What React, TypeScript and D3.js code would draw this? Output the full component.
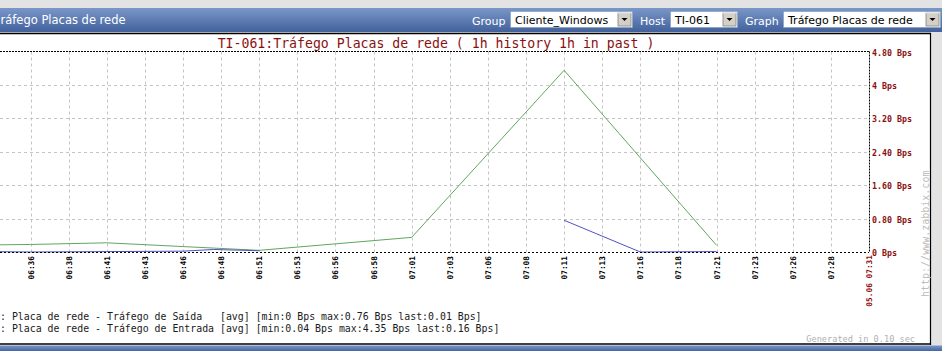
import React from "react";
import * as d3 from "d3";

// ---- data ----
const chartTitle = "TI-061:Tráfego Placas de rede ( 1h history 1h in past )";
const periodStart = "06:31";
const periodEnd = "07:31";
const xTickLabels = [
  "06:36", "06:38", "06:41", "06:43", "06:46", "06:48", "06:51", "06:53",
  "06:56", "06:58", "07:01", "07:03", "07:06", "07:08", "07:11", "07:13",
  "07:16", "07:18", "07:21", "07:23", "07:26", "07:28",
];
const endLabel = "05.06 07:31";
const yTickValues = [0, 0.8, 1.6, 2.4, 3.2, 4.0, 4.8];
const yTickLabels = ["0 Bps", "0.80 Bps", "1.60 Bps", "2.40 Bps", "3.20 Bps", "4 Bps", "4.80 Bps"];

const entradaTimes = ["06:31", "06:36", "06:41", "06:46", "06:51", "07:01", "07:11", "07:21"];
const entradaValues = [0.16, 0.18, 0.22, 0.13, 0.04, 0.35, 4.35, 0.16];

const saidaTimes = ["06:31", "06:36", "06:41", "06:46", "06:48", "06:51", "07:01", "07:11", "07:16", "07:21"];
const saidaValues: (number | null)[] = [0.02, 0.0, 0.01, 0.02, 0.06, 0.03, null, 0.76, 0.0, 0.01];

const legendLines = [
  ": Placa de rede - Tráfego de Saída   [avg] [min:0 Bps max:0.76 Bps last:0.01 Bps]",
  ": Placa de rede - Tráfego de Entrada [avg] [min:0.04 Bps max:4.35 Bps last:0.16 Bps]",
];
// header title as visible in the page (its first letter is scrolled off the left edge)
const headerTitle = "ráfego Placas de rede";
const selects = [
  { label: "Group", value: "Cliente_Windows" },
  { label: "Host", value: "TI-061" },
  { label: "Graph", value: "Tráfego Placas de rede" },
];

// ---- layout ----
const W = 942;
const H = 351;
const PLOT_RIGHT = 869;
const PLOT_TOP = 51.5;
const PLOT_BOTTOM = 252;
const MINUTE_PX = 15.245;
const MONO = "'DejaVu Sans Mono', monospace";
const SANS = "'DejaVu Sans', Verdana, sans-serif";
const DARK_RED = "#8a1010";

const parse = d3.timeParse("%H:%M");
const t0 = parse(periodStart) as Date;
const t1 = parse(periodEnd) as Date;

const x = d3.scaleTime().domain([t0, t1]).range([PLOT_RIGHT - 60 * MINUTE_PX, PLOT_RIGHT]);
const y = d3.scaleLinear().domain([0, 4.8]).range([PLOT_BOTTOM, PLOT_TOP]);

const tickTimes = xTickLabels.map((_, i) => d3.timeSecond.offset(t0, 300 + 150 * i));

const lineGen = d3
  .line<{ t: Date; v: number | null }>()
  .defined((d) => d.v !== null)
  .x((d) => x(d.t))
  .y((d) => y(d.v as number));

const entradaData = entradaTimes.map((s, i) => ({ t: parse(s) as Date, v: entradaValues[i] }));
const saidaData = saidaTimes.map((s, i) => ({ t: parse(s) as Date, v: saidaValues[i] }));

function Select({ x0, w, value }: { x0: number; w: number; value: string }) {
  return (
    <g>
      <rect x={x0 + 0.5} y={11.5} width={w} height={16} fill="#ffffff" stroke="#7f9db9" strokeWidth={0.6} />
      <text x={x0 + 5} y={23.5} fontFamily={SANS} fontSize={11} fill="#000">
        {value}
      </text>
      <rect x={x0 + w - 14} y={13} width={13} height={13} fill="#d4d0c8" stroke="#808080" strokeWidth={0.8} />
      <line x1={x0 + w - 14} y1={13} x2={x0 + w - 1} y2={13} stroke="#fff" />
      <path d={`M${x0 + w - 10.5},18 h6 l-3,3 z`} fill="#000" />
    </g>
  );
}

export default function App() {
  const selPos = [
    { lx: 472, sx: 510, w: 122 },
    { lx: 640, sx: 670, w: 67 },
    { lx: 745, sx: 783, w: 157 },
  ];
  return (
    <svg
      width={W}
      height={H}
      style={{ position: "absolute", left: 0, top: 0, display: "block" }}
      xmlns="http://www.w3.org/2000/svg"
    >
      <defs>
        <linearGradient id="hdr" x1="0" y1="0" x2="0" y2="1">
          <stop offset="0" stopColor="#7a97c9" />
          <stop offset="1" stopColor="#42619c" />
        </linearGradient>
      </defs>
      {/* page background */}
      <rect x={0} y={0} width={W} height={H} fill="#e3e3e3" />
      {/* header */}
      <rect x={0} y={8} width={W} height={24} fill="url(#hdr)" />
      <text x={0.5} y={24} fontFamily={SANS} fontSize={11.5} fill="#ffffff">
        {headerTitle}
      </text>
      {selects.map((s, i) => (
        <g key={s.label}>
          <text x={selPos[i].lx} y={25} fontFamily={SANS} fontSize={11} fill="#ffffff">
            {s.label}
          </text>
          <Select x0={selPos[i].sx} w={selPos[i].w} value={s.value} />
        </g>
      ))}
      {/* white panel */}
      <rect x={0} y={33} width={931} height={312} fill="#ffffff" />
      <line x1={0} y1={33.5} x2={931} y2={33.5} stroke="#000" strokeWidth={1.5} />
      <line x1={930.5} y1={33} x2={930.5} y2={345} stroke="#000" strokeWidth={1.2} />
      <line x1={0} y1={344} x2={931} y2={344} stroke="#000" strokeWidth={1.5} />
      {/* bottom band */}
      <rect x={0} y={345.5} width={W} height={6} fill="url(#hdr)" />

      {/* title */}
      <text x={436} y={48} textAnchor="middle" fontFamily={MONO} fontSize={13.2} fill={DARK_RED}>
        {chartTitle}
      </text>

      {/* grid */}
      {yTickValues.slice(1, -1).map((v) => (
        <line
          key={v}
          x1={0}
          x2={PLOT_RIGHT}
          y1={Math.round(y(v)) + 0.5}
          y2={Math.round(y(v)) + 0.5}
          stroke="#c4c4c4"
          strokeDasharray="3,3"
        />
      ))}
      {tickTimes.map((t, i) => (
        <line
          key={i}
          x1={Math.round(x(t)) + 0.5}
          x2={Math.round(x(t)) + 0.5}
          y1={PLOT_TOP}
          y2={PLOT_BOTTOM}
          stroke="#c4c4c4"
          strokeDasharray="3,3"
        />
      ))}

      {/* series */}
      <path d={lineGen(entradaData) || ""} fill="none" stroke="#5fa65f" strokeWidth={1} />
      <path d={lineGen(saidaData) || ""} fill="none" stroke="#5050c8" strokeWidth={1} />

      {/* axes (dotted) */}
      <line x1={0} x2={PLOT_RIGHT} y1={PLOT_TOP} y2={PLOT_TOP} stroke="#000" strokeDasharray="2,1" />
      <line x1={0} x2={PLOT_RIGHT} y1={PLOT_BOTTOM + 0.5} y2={PLOT_BOTTOM + 0.5} stroke="#000" strokeDasharray="2,2" />
      <line x1={PLOT_RIGHT + 0.5} x2={PLOT_RIGHT + 0.5} y1={PLOT_TOP} y2={PLOT_BOTTOM} stroke="#000" strokeDasharray="2,1" />

      {/* y labels */}
      {yTickValues.map((v, i) => (
        <text
          key={v}
          x={PLOT_RIGHT + 3}
          y={y(v) + 1}
          dominantBaseline="central"
          fontFamily={MONO}
          fontSize={8.3}
          fontWeight="bold"
          fill={DARK_RED}
        >
          {yTickLabels[i]}
        </text>
      ))}

      {/* x labels */}
      {tickTimes.map((t, i) => (
        <text
          key={i}
          transform={`translate(${Math.round(x(t)) + 0.5},${PLOT_BOTTOM + 4}) rotate(-90)`}
          textAnchor="end"
          dominantBaseline="central"
          fontFamily={MONO}
          fontSize={7.8}
          fontWeight="bold"
          fill="#000"
        >
          {xTickLabels[i]}
        </text>
      ))}
      <text
        transform={`translate(${PLOT_RIGHT + 0.5},${PLOT_BOTTOM + 3}) rotate(-90)`}
        textAnchor="end"
        dominantBaseline="central"
        fontFamily={MONO}
        fontSize={7.8}
        fontWeight="bold"
        fill={DARK_RED}
      >
        {endLabel}
      </text>

      {/* watermark */}
      <text
        transform="translate(925,297) rotate(-90)"
        dominantBaseline="central"
        fontFamily={MONO}
        fontSize={10}
        fill="#bdbdbd"
      >
        http://www.zabbix.com
      </text>

      {/* legend */}
      {legendLines.map((l, i) => (
        <text
          key={i}
          x={0}
          y={320 + i * 12}
          fontFamily={MONO}
          fontSize={9.9}
          fill="#1a1a1a"
          style={{ whiteSpace: "pre" }}
        >
          {l}
        </text>
      ))}

      <text x={915} y={342} textAnchor="end" fontFamily={MONO} fontSize={8.6} fill="#b0b0b0">
        Generated in 0.10 sec
      </text>
    </svg>
  );
}
